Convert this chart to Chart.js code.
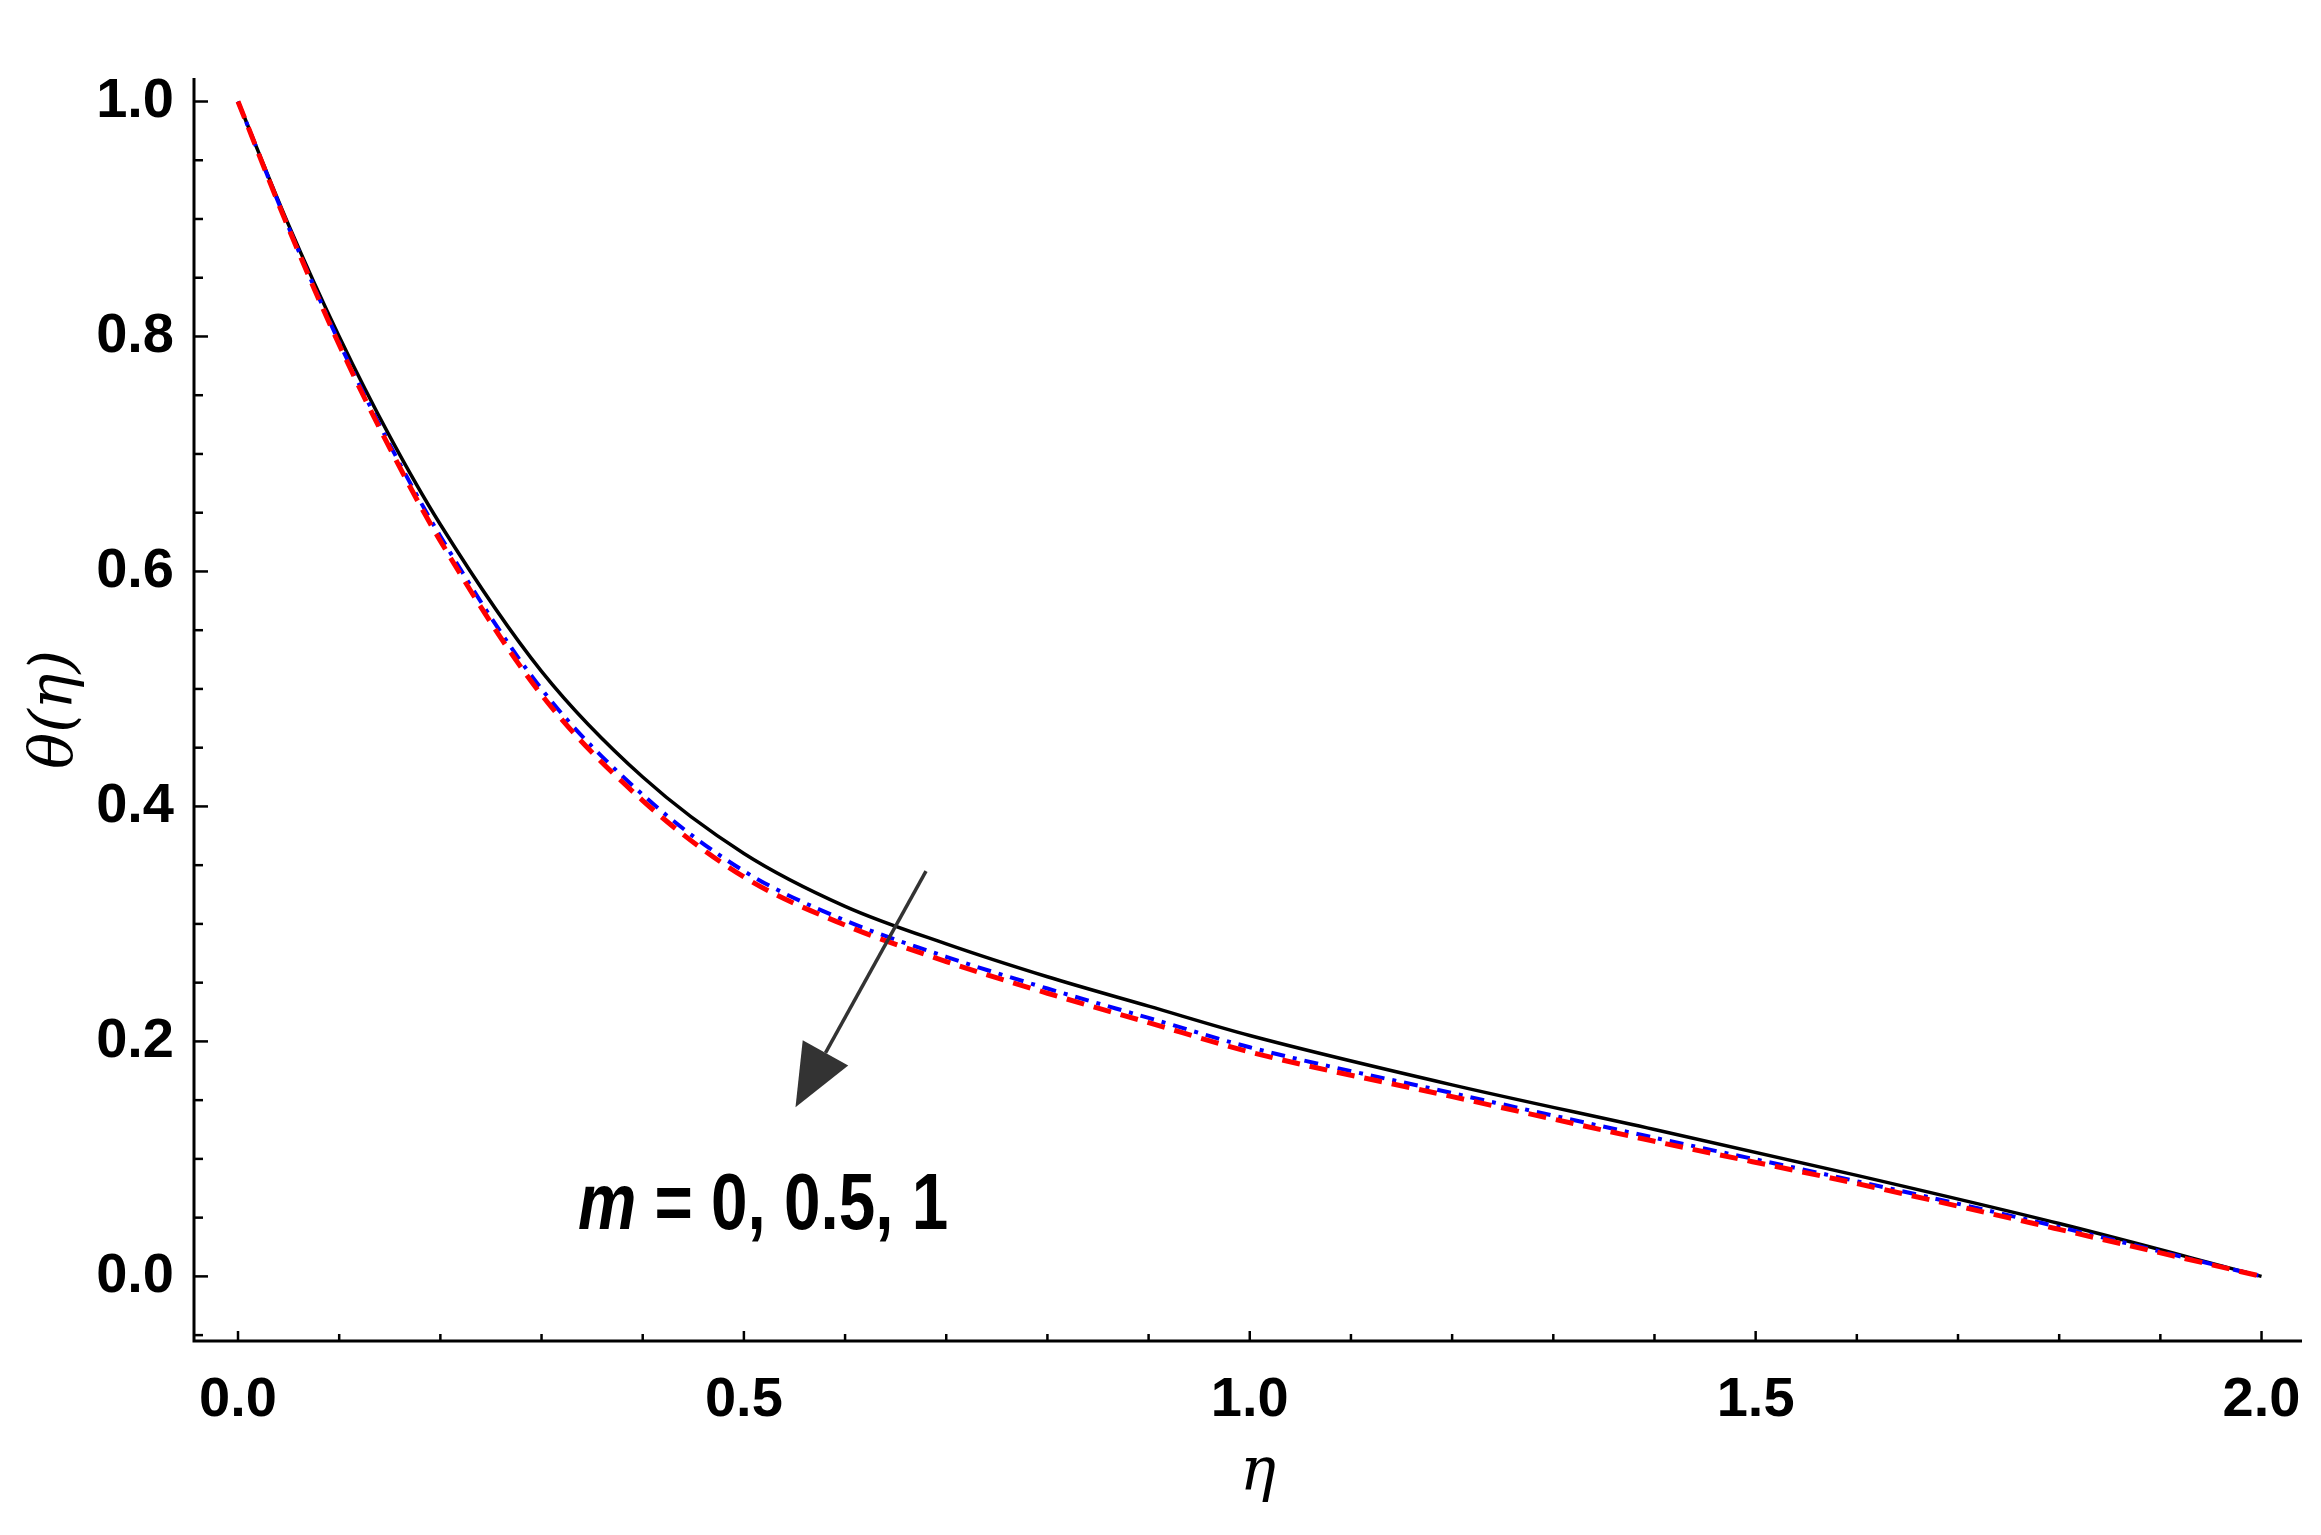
<!DOCTYPE html>
<html><head><meta charset="utf-8">
<script src="https://cdn.jsdelivr.net/npm/chart.js@4.4.1/dist/chart.umd.min.js"></script>
<style>html,body{margin:0;background:#fff}#w{width:2321px;height:1535px}</style>
</head><body><div id="w"><canvas id="c"></canvas></div>
<script>
const eta = [0,0.05,0.1,0.15,0.2,0.3,0.4,0.5,0.6,0.7,0.8,0.9,1.0,1.2,1.4,1.6,1.8,2.0];
const m0  = [1,0.895,0.80,0.715,0.64,0.515,0.425,0.36,0.315,0.283,0.255,0.23,0.205,0.163,0.125,0.086,0.045,0];
const m05 = [1,0.893,0.795,0.708,0.63,0.5,0.41,0.345,0.303,0.272,0.245,0.22,0.195,0.156,0.118,0.081,0.042,0];
const m1  = [1,0.892,0.793,0.705,0.626,0.495,0.405,0.34,0.299,0.268,0.241,0.216,0.191,0.153,0.115,0.079,0.04,0];
const xMajor = [0,0.5,1,1.5,2];
const yMajor = [0,0.2,0.4,0.6,0.8,1];
const label = 'm = 0, 0.5, 1';
const FONT = '"Liberation Sans Narrow","Arial Narrow","Liberation Sans",sans-serif';
const pts = a => eta.map((x,i)=>({x, y:a[i]}));
const near = (v, arr) => arr.some(t => Math.abs(t - v) < 1e-6);

const deco = {
  id:'deco',
  afterDraw(ch){
    const c = ch.ctx, xs = ch.scales.x, ys = ch.scales.y, a = ch.chartArea;
    c.save();
    c.strokeStyle='#000'; c.lineWidth=3;
    c.beginPath(); c.moveTo(a.left,a.top); c.lineTo(a.left,a.bottom); c.lineTo(a.right,a.bottom); c.stroke();
    c.lineWidth=2.5;
    for(let i=0;i<=20;i++){const v=i*0.1, px=xs.getPixelForValue(v), L=near(v,xMajor)?10:7;
      c.beginPath(); c.moveTo(px,a.bottom); c.lineTo(px,a.bottom-L); c.stroke();}
    for(let i=-1;i<=20;i++){const v=i*0.05, py=ys.getPixelForValue(v), L=near(v,yMajor)?14:9;
      c.beginPath(); c.moveTo(a.left,py); c.lineTo(a.left+L,py); c.stroke();}
    // arrow
    const x1=xs.getPixelForValue(0.68), y1=ys.getPixelForValue(0.345);
    const x2=xs.getPixelForValue(0.551), y2=ys.getPixelForValue(0.144);
    const ang=Math.atan2(y2-y1,x2-x1), hl=62, hw=26;
    const bx=x2-hl*Math.cos(ang), by=y2-hl*Math.sin(ang);
    c.strokeStyle='#333'; c.lineWidth=3.5;
    c.beginPath(); c.moveTo(x1,y1); c.lineTo(bx,by); c.stroke();
    c.fillStyle='#333'; c.beginPath(); c.moveTo(x2,y2);
    c.lineTo(bx+hw*Math.sin(ang), by-hw*Math.cos(ang));
    c.lineTo(bx-hw*Math.sin(ang), by+hw*Math.cos(ang)); c.closePath(); c.fill();
    // label (condensed)
    c.save();
    c.fillStyle='#000'; c.textBaseline='alphabetic';
    const lx=xs.getPixelForValue(0.336), ly=ys.getPixelForValue(0.04);
    c.translate(lx,ly); c.scale(0.82,1);
    c.font='italic bold 80px '+FONT; c.fillText('m',0,0); let off=c.measureText('m ').width;
    c.font='bold 80px '+FONT; c.fillText(label.slice(2),off,0);
    c.restore();
    // axis titles
    c.fillStyle='#000';
    c.font='italic 60px "DejaVu Serif",serif'; c.textAlign='center';
    c.fillText('η', (a.left+a.right)/2+10, 1490);
    c.translate(72,(a.top+a.bottom)/2); c.rotate(-Math.PI/2); c.fillText('θ(η)',0,0);
    c.restore();
  }
};

new Chart(document.getElementById('c'),{
  type:'line',
  data:{datasets:[
    {data:pts(m1), borderColor:'#ff0000', borderWidth:5, borderDash:[18,10], pointRadius:0, tension:0.4, cubicInterpolationMode:'monotone'},
    {data:pts(m05), borderColor:'#0000ff', borderWidth:4, borderDash:[14,8,4,8], pointRadius:0, tension:0.4, cubicInterpolationMode:'monotone'},
    {data:pts(m0), borderColor:'#000', borderWidth:3.5, pointRadius:0, tension:0.4, cubicInterpolationMode:'monotone'}
  ]},
  options:{
    responsive:true, maintainAspectRatio:false, animation:false,
    layout:{padding:{top:78,right:19}},
    plugins:{legend:{display:false},tooltip:{enabled:false}},
    scales:{
      x:{type:'linear',min:-0.0435,max:2.04,
        afterFit(s){s.height=194;},
        afterBuildTicks(s){s.ticks=xMajor.map(v=>({value:v}));},
        grid:{display:false}, border:{display:false},
        ticks:{font:{family:FONT,size:56,weight:'bold'},color:'#000',padding:18,maxRotation:0,autoSkip:false,callback:v=>v.toFixed(1)}},
      y:{type:'linear',min:-0.055,max:1.02,
        afterFit(s){s.width=194;},
        afterBuildTicks(s){s.ticks=yMajor.map(v=>({value:v}));},
        grid:{display:false}, border:{display:false},
        ticks:{font:{family:FONT,size:56,weight:'bold'},color:'#000',padding:12,callback:v=>v.toFixed(1)}}
    }
  },
  plugins:[deco]
});
</script></body></html>
